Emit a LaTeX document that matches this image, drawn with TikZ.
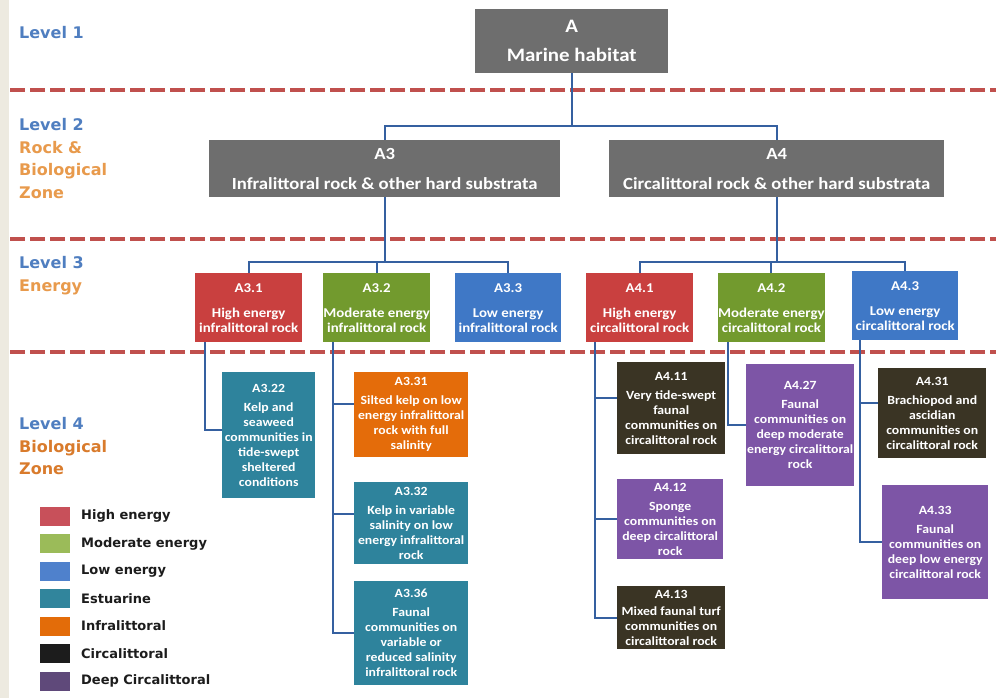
\documentclass[tikz,border=0pt]{standalone}
\usepackage{fontspec}
\newfontfamily\boxfont{Carlito}[FakeStretch=1.1]
\newfontfamily\lblfont{DejaVu Sans}
\definecolor{strip}{HTML}{EDEAE0}
\definecolor{sepred}{HTML}{C0504D}
\definecolor{connc}{HTML}{3560A0}
\definecolor{boxgray}{HTML}{6E6E6E}
\definecolor{bred}{HTML}{C9403F}
\definecolor{bgreen}{HTML}{729A2E}
\definecolor{bblue}{HTML}{3F78C6}
\definecolor{bteal}{HTML}{2E839C}
\definecolor{borange}{HTML}{E46C0A}
\definecolor{bdark}{HTML}{3A3424}
\definecolor{bpurple}{HTML}{7D55A6}
\definecolor{kred}{HTML}{C8505A}
\definecolor{kgreen}{HTML}{9BBB59}
\definecolor{kblue}{HTML}{4F81CC}
\definecolor{kteal}{HTML}{31859C}
\definecolor{korange}{HTML}{E36C09}
\definecolor{kdark}{HTML}{1C1C1C}
\definecolor{kpurple}{HTML}{5F497A}
\definecolor{lblue}{HTML}{4F7EC0}
\definecolor{lorange}{HTML}{E89A4C}
\definecolor{lorangeb}{HTML}{D97B2C}
\begin{document}
\begin{tikzpicture}[x=1pt,y=-1pt,
  conn/.style={draw=connc, line width=2pt},
  sepline/.style={draw=sepred, line width=3.5pt, dash pattern=on 15pt off 5pt},
  bx/.style={rectangle, inner sep=0pt, anchor=north west, align=center, text=white},
  lone/.style={bx, font=\boxfont\bfseries\fontsize{19}{23}\selectfont},
  ltwo/.style={bx, font=\boxfont\bfseries\fontsize{17}{20}\selectfont},
  lthree/.style={bx, font=\boxfont\bfseries\fontsize{13.5}{15}\selectfont, minimum width=107, minimum height=69},
  lfour/.style={bx, font=\boxfont\bfseries\fontsize{12.5}{15}\selectfont},
  lvl/.style={anchor=north west, align=left, inner sep=0pt, font=\lblfont\bfseries\fontsize{16}{22.7}\selectfont},
  keybox/.style={rectangle, inner sep=0pt, minimum width=30, minimum height=19},
  keytxt/.style={anchor=west, inner sep=0pt, text=kdark, font=\lblfont\bfseries\fontsize{13}{15}\selectfont}
]
\useasboundingbox (0,0) rectangle (996,698);
\fill[white] (0,0) rectangle (996,698);
\fill[strip] (0,0) rectangle (9,698);

% separators
\draw[sepline] (10,90) -- (996,90);
\draw[sepline] (10,239) -- (996,239);
\draw[sepline] (10,352) -- (996,352);

% level labels
\node[lvl, text=lblue] (lv1) at (19,26) {Level 1};
\node[lvl] (lv2) at (19,118) {\textcolor{lblue}{Level 2}\\\textcolor{lorange}{Rock \&}\\\textcolor{lorange}{Biological}\\\textcolor{lorange}{Zone}};
\node[lvl] (lv3) at (19,256) {\textcolor{lblue}{Level 3}\\\textcolor{lorange}{Energy}};
\node[lvl] (lv4) at (19,417) {\textcolor{lblue}{Level 4}\\\textcolor{lorangeb}{Biological}\\\textcolor{lorangeb}{Zone}};

% level 1 and 2
\node[lone, fill=boxgray, minimum width=193, minimum height=64] (A) at (475,9) {A\\[6pt]Marine habitat};
\node[ltwo, fill=boxgray, minimum width=351, minimum height=57] (A3) at (209,140) {A3\\[10pt]Infralittoral rock \& other hard substrata};
\node[ltwo, fill=boxgray, minimum width=335, minimum height=57] (A4) at (609,140) {A4\\[10pt]Circalittoral rock \& other hard substrata};

% level 3
\node[lthree, fill=bred] (a31) at (195,273) {A3.1\\[10pt]High energy\\infralittoral rock};
\node[lthree, fill=bgreen] (a32) at (323,273) {A3.2\\[10pt]Moderate energy\\infralittoral rock};
\node[lthree, fill=bblue, minimum width=106] (a33) at (455,273) {A3.3\\[10pt]Low energy\\infralittoral rock};
\node[lthree, fill=bred] (a41) at (586,273) {A4.1\\[10pt]High energy\\circalittoral rock};
\node[lthree, fill=bgreen, minimum width=106] (a42) at (718,273) {A4.2\\[10pt]Moderate energy\\circalittoral rock};
\node[lthree, fill=bblue, minimum width=106] (a43) at (852,271) {A4.3\\[10pt]Low energy\\circalittoral rock};

% level 4
\node[lfour, fill=bteal, minimum width=93, minimum height=126] (a322) at (222,372) {A3.22\\[4pt]Kelp and\\seaweed\\communities in\\tide-swept\\sheltered\\conditions};
\node[lfour, fill=borange, minimum width=114, minimum height=85] (a331) at (354,372) {A3.31\\[4pt]Silted kelp on low\\energy infralittoral\\rock with full\\salinity};
\node[lfour, fill=bteal, minimum width=114, minimum height=82] (a332) at (354,482) {A3.32\\[4pt]Kelp in variable\\salinity on low\\energy infralittoral\\rock};
\node[lfour, fill=bteal, minimum width=114, minimum height=104] (a336) at (354,581) {A3.36\\[4pt]Faunal\\communities on\\variable or\\reduced salinity\\infralittoral rock};
\node[lfour, fill=bdark, minimum width=108, minimum height=92] (a411) at (617,362) {A4.11\\[4pt]Very tide-swept\\faunal\\communities on\\circalittoral rock};
\node[lfour, fill=bpurple, minimum width=106, minimum height=80] (a412) at (617,479) {A4.12\\[4pt]Sponge\\communities on\\deep circalittoral\\rock};
\node[lfour, fill=bdark, minimum width=108, minimum height=63] (a413) at (617,586) {A4.13\\[2pt]Mixed faunal turf\\communities on\\circalittoral rock};
\node[lfour, fill=bpurple, minimum width=108, minimum height=122] (a427) at (746,364) {A4.27\\[4pt]Faunal\\communities on\\deep moderate\\energy circalittoral\\rock};
\node[lfour, fill=bdark, minimum width=108, minimum height=90] (a431) at (878,368) {A4.31\\[4pt]Brachiopod and\\ascidian\\communities on\\circalittoral rock};
\node[lfour, fill=bpurple, minimum width=106, minimum height=114] (a433) at (882,485) {A4.33\\[4pt]Faunal\\communities on\\deep low energy\\circalittoral rock};

% connectors level 1 -> 2
\draw[conn] (A.south) -- ++(0,53) -| (A3.north);
\draw[conn] (A.south) -- ++(0,53) -| (A4.north);
% level 2 -> 3
\draw[conn] (A3.south) -- ++(0,65) -| (a31.north);
\draw[conn] (A3.south) -- ++(0,65) -| (a32.north);
\draw[conn] (A3.south) -- ++(0,65) -| (a33.north);
\draw[conn] (A4.south) -- ++(0,65) -| (a41.north);
\draw[conn] (A4.south) -- ++(0,65) -| (a42.north);
\draw[conn] (A4.south) -- ++(0,65) -| (a43.north);
% level 3 -> 4
\draw[conn] ([xshift=10pt]a31.south west) |- ([yshift=5pt]a322.west);
\draw[conn] ([xshift=10pt]a32.south west) |- ([yshift=11pt]a331.west);
\draw[conn] ([xshift=10pt]a32.south west) |- ([yshift=9pt]a332.west);
\draw[conn] ([xshift=10pt]a32.south west) |- (a336.west);
\draw[conn] ([xshift=9pt]a41.south west) |- ([yshift=10pt]a411.west);
\draw[conn] ([xshift=9pt]a41.south west) |- (a412.west);
\draw[conn] ([xshift=9pt]a41.south west) |- (a413.west);
\draw[conn] ([xshift=10pt]a42.south west) |- (a427.west);
\draw[conn] ([xshift=8pt]a43.south west) |- ([yshift=10pt]a431.west);
\draw[conn] ([xshift=8pt]a43.south west) |- (a433.west);

% legend
\node[keybox, fill=kred] (k1) at (55,516) {};
\node[keybox, fill=kgreen] (k2) at (55,543.5) {};
\node[keybox, fill=kblue] (k3) at (55,571) {};
\node[keybox, fill=kteal] (k4) at (55,598.5) {};
\node[keybox, fill=korange] (k5) at (55,626) {};
\node[keybox, fill=kdark] (k6) at (55,653.5) {};
\node[keybox, fill=kpurple] (k7) at (55,681) {};
\node[keytxt] (t1) at (81,516) {High energy};
\node[keytxt] (t2) at (81,543.5) {Moderate energy};
\node[keytxt] (t3) at (81,571) {Low energy};
\node[keytxt] (t4) at (81,598.5) {Estuarine};
\node[keytxt] (t5) at (81,626) {Infralittoral};
\node[keytxt] (t6) at (81,653.5) {Circalittoral};
\node[keytxt] (t7) at (81,681) {Deep Circalittoral};
\end{tikzpicture}
\end{document}
